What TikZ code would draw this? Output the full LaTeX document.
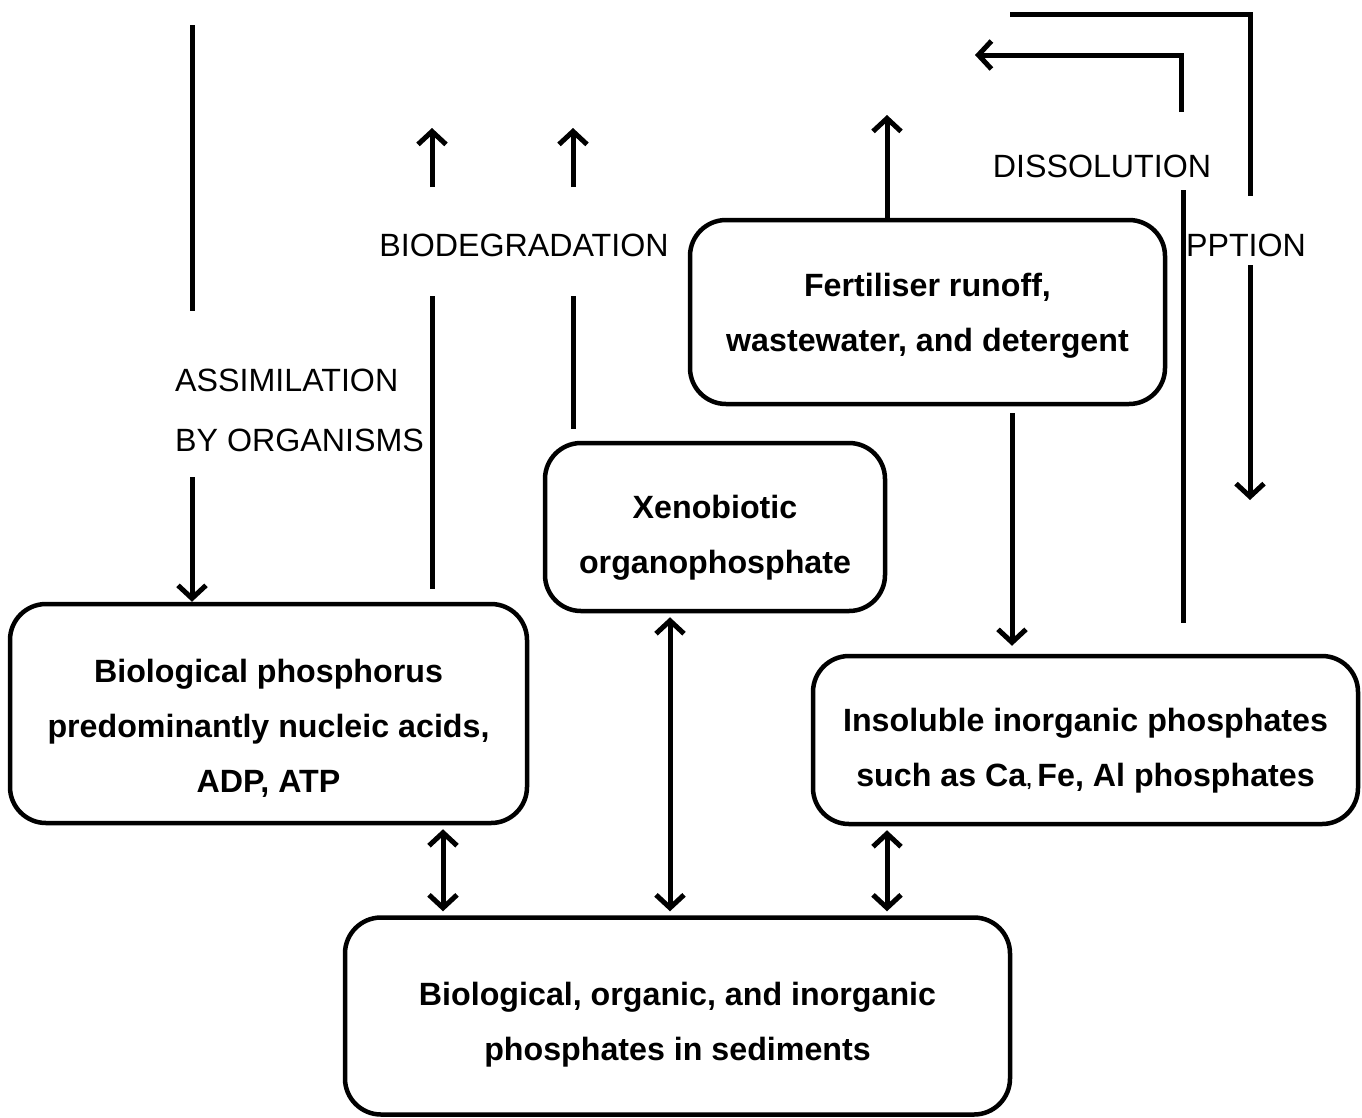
\documentclass[tikz,border=0pt]{standalone}
\usepackage{fontspec}
\setmainfont{Liberation Sans}
\usetikzlibrary{arrows.meta}
\newcommand\topstrut[1]{\rule{0pt}{#1pt}}
\begin{document}
\begin{tikzpicture}[x=1pt,y=-1pt,
  box/.style={draw, line width=4.5pt, rounded corners=36pt, align=center,
    font=\fontsize{32.2}{55}\selectfont\bfseries, inner sep=0pt},
  lbl/.style={font=\fontsize{32.2}{60}\selectfont, inner sep=0pt},
  ln/.style={line width=5pt},
  tipb/.tip={Straight Barb[length=13pt,width=28pt]},
  arr/.style={ln, -tipb},
  darr/.style={ln, tipb-tipb}
]
\useasboundingbox (0,0) rectangle (1362,1117);

% boxes
\node[box, minimum width=517pt, minimum height=219pt] (bio) at (268.5,713.5)
  {\topstrut{53}Biological phosphorus\\predominantly nucleic acids,\\ADP, ATP};
\node[box, minimum width=340pt, minimum height=168pt] (xeno) at (715,527)
  {\topstrut{45}Xenobiotic\\organophosphate};
\node[box, minimum width=475pt, minimum height=184pt] (fert) at (927.5,312)
  {\topstrut{31}Fertiliser runoff,\\wastewater, and detergent};
\node[box, minimum width=545pt, minimum height=168pt] (insol) at (1085.5,740)
  {\topstrut{45}Insoluble inorganic phosphates\\such as Ca{\fontsize{20}{20}\selectfont, }Fe, Al phosphates};
\node[box, minimum width=665pt, minimum height=197pt] (sed) at (677.5,1016)
  {\topstrut{41}Biological, organic, and inorganic\\phosphates in sediments};

% labels
\node[lbl, anchor=west, align=left] (assim) at (175,410) {ASSIMILATION\\BY ORGANISMS};
\node[lbl] (biod) at (524,245) {BIODEGRADATION};
\node[lbl] (diss) at (1102,166) {DISSOLUTION};
\node[lbl] (ppt) at (1246,245) {PPTION};

% coordinates
\coordinate (L1) at (192,25);
\coordinate (L2) at (192,311);
\coordinate (L3) at (192,477);
\coordinate (B1) at (432,296);
\coordinate (B2) at (432,187);
\coordinate (B3) at (432,128);
\coordinate (C1) at (573,296);
\coordinate (C2) at (573,187);
\coordinate (C3) at (573,128);
\coordinate (F1) at (887,115);
\coordinate (G) at (1012,0);
\coordinate (D1) at (1183,190);
\coordinate (D2) at (1181,112);
\coordinate (D3) at (1181,55);
\coordinate (D4) at (975,55);
\coordinate (S1) at (1010,14);
\coordinate (S2) at (1250,14);
\coordinate (S3) at (1250,196);
\coordinate (S4) at (1250,265);
\coordinate (S5) at (1250,500);
\coordinate (H1) at (443,0);
\coordinate (H2) at (670,0);
\coordinate (H3) at (887,0);

% assimilation
\draw[ln] (L1) -- (L2);
\draw[arr] (L3) -- (L3 |- bio.north);

% biodegradation
\draw[ln, shorten <=13pt] (bio.north -| B1) -- (B1);
\draw[arr] (B2) -- (B3);
\draw[ln, shorten <=12pt] (xeno.north -| C1) -- (C1);
\draw[arr] (C2) -- (C3);

% fertiliser
\draw[arr] (fert.north -| F1) -- (F1);
\draw[arr, shorten <=7pt, shorten >=8pt] (fert.south -| G) -- (insol.north -| G);

% dissolution
\draw[ln, shorten <=31pt] (insol.north -| D1) -- (D1);
\draw[arr] (D2) -- (D3) -- (D4);

% sorption / precipitation
\draw[ln] (S1) -- (S2) -- (S3);
\draw[arr] (S4) -- (S5);

% double arrows to sediments
\draw[darr, shorten <=4pt, shorten >=4pt] (bio.south -| H1) -- (sed.north -| H1);
\draw[darr, shorten <=4pt, shorten >=4pt] (xeno.south -| H2) -- (sed.north -| H2);
\draw[darr, shorten <=4pt, shorten >=4pt] (insol.south -| H3) -- (sed.north -| H3);
\end{tikzpicture}
\end{document}
